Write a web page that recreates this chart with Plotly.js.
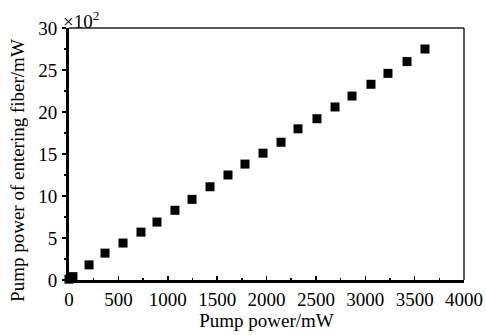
<!DOCTYPE html>
<html>
<head>
<meta charset="utf-8">
<script src="https://cdn.plot.ly/plotly-3.0.1.min.js"></script>
<style>html,body{margin:0;padding:0;background:#fff;}#chart{width:486px;height:335px;}</style>
</head>
<body>
<div id="chart"></div>
<script>
const pumpPower = [0, 40, 203, 365, 547, 729, 891, 1073, 1246, 1428, 1610, 1782, 1965, 2147, 2319, 2511, 2694, 2866, 3058, 3230, 3423, 3605];
const fiberPower = [0.1, 0.4, 1.8, 3.2, 4.4, 5.7, 6.9, 8.3, 9.6, 11.1, 12.5, 13.8, 15.1, 16.4, 18.0, 19.2, 20.6, 21.9, 23.3, 24.6, 26.0, 27.5];
const xTicks = [0, 500, 1000, 1500, 2000, 2500, 3000, 3500, 4000];
const yTicks = [0, 5, 10, 15, 20, 25, 30];

const font = {family: '"Liberation Serif", "DejaVu Serif", serif', color: '#000', size: 19};

const trace = {
  x: pumpPower, y: fiberPower, type: 'scatter', mode: 'markers',
  marker: {symbol: 'square', size: 9, color: '#000'},
  cliponaxis: false, hoverinfo: 'skip'
};

const layout = {
  width: 486, height: 335,
  margin: {l: 69, r: 22, t: 28, b: 55},
  paper_bgcolor: '#fff', plot_bgcolor: '#fff',
  font: font,
  showlegend: false,
  xaxis: {
    range: [0, 4000], tickvals: xTicks, ticktext: xTicks.map(String),
    showgrid: false, zeroline: false,
    showline: true, linecolor: '#000', linewidth: 3,
    ticks: 'inside', ticklen: 4, tickwidth: 1.5, tickcolor: '#000',
    minor: {dtick: 250, ticks: 'inside', ticklen: 2, tickcolor: '#000'},
    tickfont: {size: 19}, ticklabelstandoff: 0,
    title: {text: 'Pump power/mW', font: {size: 19}, standoff: 2}
  },
  yaxis: {
    range: [0, 30], tickvals: yTicks, ticktext: yTicks.map(String),
    showgrid: false, zeroline: false,
    showline: true, linecolor: '#000', linewidth: 3,
    ticks: 'outside', ticklen: 4, tickwidth: 1.5, tickcolor: '#000',
    minor: {dtick: 2.5, ticks: 'outside', ticklen: 2, tickcolor: '#000'},
    tickfont: {size: 19}, ticklabelstandoff: 1
  },
  shapes: [
    {type: 'line', xref: 'paper', yref: 'paper', x0: 0, x1: 1, y0: 1, y1: 1, line: {color: '#222', width: 1.5}},
    {type: 'line', xref: 'paper', yref: 'paper', x0: 1, x1: 1, y0: 0, y1: 1, line: {color: '#222', width: 1.5}}
  ],
  annotations: [
    {text: 'Pump power of entering fiber/mW', xref: 'paper', yref: 'paper', x: -0.129, y: 0.433,
     xanchor: 'center', yanchor: 'middle', textangle: -90, showarrow: false, font: {size: 19}},
    {text: '×10<sup>2</sup>', xref: 'paper', yref: 'paper', x: -0.02, y: 1.0, xanchor: 'left', yanchor: 'bottom',
     showarrow: false, font: {size: 19}, yshift: -6}
  ]
};

Plotly.newPlot('chart', [trace], layout, {staticPlot: true, displayModeBar: false});
</script>
</body>
</html>
